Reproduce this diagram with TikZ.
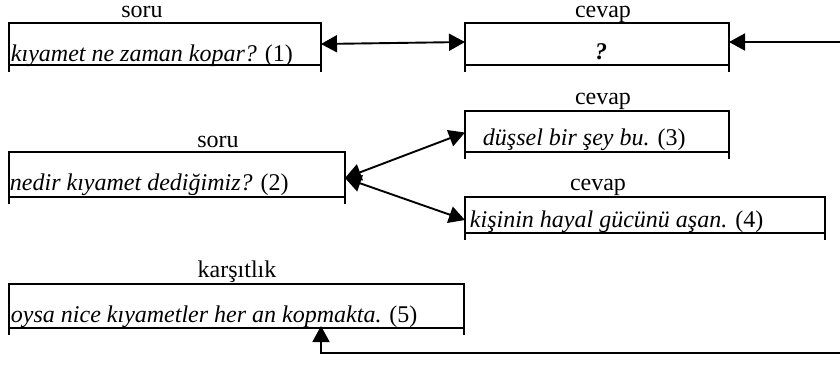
\documentclass[tikz,border=0pt]{standalone}
\usepackage{fontspec}
\setmainfont{Liberation Serif}
\usetikzlibrary{arrows.meta}
\begin{document}
\begin{tikzpicture}[x=0.5pt,y=-0.5pt,
  frame/.style={rectangle,inner sep=0pt,outer sep=0pt,anchor=north west},
  lbl/.style={anchor=base,inner sep=0pt,font=\fontsize{12}{14}\selectfont},
  txt/.style={anchor=base west,inner sep=0pt,font=\fontsize{12}{14}\selectfont},
  tip/.style={-{Triangle[length=8pt,width=8.5pt]}},
  tips/.style={{Triangle[length=8pt,width=8.5pt]}-{Triangle[length=8pt,width=8.5pt]}},
  every path/.style={line width=0.95pt}]
\useasboundingbox (0,0) rectangle (840,372);

% frames (top, sides and bottom drawn below)
\node[frame,minimum width=156pt,minimum height=21pt]   (b1) at (9,23) {};
\node[frame,minimum width=132pt,minimum height=21pt]   (b2) at (465,23) {};
\node[frame,minimum width=168pt,minimum height=22.5pt] (b3) at (9,152) {};
\node[frame,minimum width=132pt,minimum height=20.5pt] (b4) at (465,111) {};
\node[frame,minimum width=180pt,minimum height=18pt]   (b5) at (465,197) {};
\node[frame,minimum width=227.5pt,minimum height=22pt] (b6) at (9,284) {};

\foreach \n in {b1,b2,b3,b4,b5,b6}{
  \draw ([yshift=-3.5pt]\n.south west) -- (\n.north west) -- (\n.north east)
        -- ([yshift=-3.5pt]\n.south east);
  \draw (\n.south west) -- (\n.south east);
}

% headings
\node[lbl] (l1) at (142,17)  {soru};
\node[lbl] (l2) at (603,17)  {cevap};
\node[lbl] (l3) at (218,147) {soru};
\node[lbl] (l4) at (603,104) {cevap};
\node[lbl] (l5) at (598,190) {cevap};
\node[lbl] (l6) at (237,277) {karşıtlık};

% contents
\node[txt] (t1) at (10,61)  {\textit{kıyamet ne zaman kopar?} (1)};
\node[anchor=base,inner sep=0pt,font=\fontsize{12}{14}\selectfont] (t2) at (601,59) {\textbf{\textit{?}}};
\node[txt] (t3) at (9,190)  {\textit{nedir kıyamet dediğimiz?} (2)};
\node[txt] (t4) at (482,145) {\textit{düşsel bir şey bu.} (3)};
\node[txt] (t5) at (469,227) {\textit{kişinin hayal gücünü aşan.} (4)};
\node[txt] (t6) at (10,322) {\textit{oysa nice kıyametler her an kopmakta.} (5)};

% connectors
\coordinate (r1) at (840,42);
\coordinate (r2) at (840,353);
\coordinate (k5) at (321,353);
\coordinate (p3) at (345,178);

\draw[tips] (b1.east) -- ([yshift=1pt]b2.west);
\draw[tip] (r1) -- ([yshift=1pt]b2.east);
\draw[tips] (p3) -- ([yshift=-0.5pt]b4.west);
\draw[tips] (p3) -- ([yshift=-2.5pt]b5.west);
\draw[tip,shorten >=-1pt] (r2) -- (k5) -- (k5 |- b6.south);
\end{tikzpicture}
\end{document}
